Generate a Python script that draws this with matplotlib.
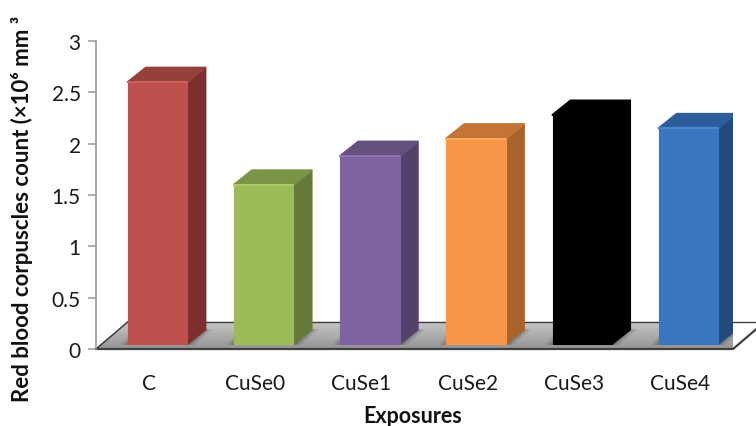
import numpy as np
import matplotlib
matplotlib.use("Agg")
import matplotlib.pyplot as plt
from matplotlib.patches import Polygon

plt.rcParams["font.family"] = ["Lato", "DejaVu Sans"]

# ===============================
# Values
# ===============================
exposures = ["C", "CuSe0", "CuSe1", "CuSe2", "CuSe3", "CuSe4"]
rbc_count = [2.55, 1.55, 1.83, 2.0, 2.23, 2.1]
front_colors = ["#c0504d", "#9bbb59", "#8064a2", "#f79646", "#000000", "#3a75c0"]
side_colors = ["#7c2f2d", "#64793a", "#534169", "#a9642b", "#000000", "#234a7c"]
top_colors = ["#95403d", "#7a9446", "#65507f", "#c27535", "#000000", "#2d5d9a"]
edge_colors = ["#d0625f", "#aecb6b", "#9076b2", "#ffa95c", "#000000", "#4c88d2"]
yticks = [0, 0.5, 1, 1.5, 2, 2.5, 3]
ytick_labels = ["0", "0.5", "1", "1.5", "2", "2.5", "3"]

W, H = 756, 427
fig = plt.figure(figsize=(W / 100, H / 100), dpi=100)
ax = fig.add_axes([96 / W, 1 - 350 / H, 637 / W, 308 / H])

x = np.arange(len(exposures))
bar_w = 0.56
shift_x, base_y = 0.08, 0.05     # bar offset from the front floor edge
depth_x, depth_y = 0.17, 0.14    # bar depth
floor_x, floor_y = 0.30, 0.265   # floor depth

# ===============================
# Floor
# ===============================
floor = Polygon([(-0.5, 0), (5.5, 0), (5.5 + floor_x, floor_y), (-0.5 + floor_x, floor_y)],
                closed=True, facecolor="none", edgecolor="none", clip_on=False, zorder=1)
ax.add_patch(floor)
grad = np.linspace(0.58, 0.78, 50).reshape(-1, 1)
im = ax.imshow(grad, cmap="gray", vmin=0, vmax=1, aspect="auto", origin="lower",
               extent=(-0.5, 5.5 + floor_x, 0, floor_y), zorder=1)
im.set_clip_path(floor)
ax.plot([-0.5, 5.5, 5.5 + floor_x], [0, 0, floor_y], color="#404040", lw=1.6, clip_on=False, zorder=2)
ax.plot([-0.5, -0.5 + floor_x], [0, floor_y], color="#303030", lw=1.0, clip_on=False, zorder=2)
ax.plot([-0.5 + floor_x, 5.5 + floor_x], [floor_y, floor_y], color="#404040", lw=1.0, clip_on=False, zorder=2)

# ===============================
# 3D bars
# ===============================
for xi, v, fc, sc, tc, ec in zip(x, rbc_count, front_colors, side_colors, top_colors, edge_colors):
    left = xi + shift_x - bar_w / 2
    right = xi + shift_x + bar_w / 2
    top = base_y + v
    # soft shadow on the floor
    for k, a in zip([0.07, 0.045, 0.02], [0.07, 0.1, 0.14]):
        ax.add_patch(Polygon([(left - k, base_y - 0.01), (right + k, base_y - 0.01),
                              (right + depth_x + k, base_y + depth_y),
                              (left + depth_x - k, base_y + depth_y + k)],
                             closed=True, facecolor="black", edgecolor="none", alpha=a, zorder=3))
    ax.add_patch(Polygon([(right, base_y), (right + depth_x, base_y + depth_y),
                          (right + depth_x, top + depth_y), (right, top)],
                         closed=True, facecolor=sc, edgecolor=sc, lw=1.5, joinstyle="round", zorder=4))
    ax.add_patch(Polygon([(left, top), (right, top), (right + depth_x, top + depth_y),
                          (left + depth_x, top + depth_y)],
                         closed=True, facecolor=tc, edgecolor=tc, lw=1.5, joinstyle="round", zorder=4))
    ax.bar(xi + shift_x, v, width=bar_w, bottom=base_y, color=fc, edgecolor=fc, lw=0.8, zorder=5)
    # bevel highlight along the top of the front face
    ax.plot([left, right], [top, top], color=ec, lw=1.4, solid_capstyle="round", zorder=6)

# ===============================
# Axes and text
# ===============================
ax.set_xlim(-0.5, 5.5)
ax.set_ylim(0, 3)
for side in ["top", "right", "bottom"]:
    ax.spines[side].set_visible(False)
ax.spines["left"].set_color("#9a9a9a")
ax.spines["left"].set_linewidth(1.2)
ax.set_yticks(yticks)
ax.set_yticklabels(ytick_labels, fontsize=15, color="#1a1a1a")
ax.tick_params(axis="y", length=6, width=1.1, color="#9a9a9a", pad=5)
ax.set_xticks(x)
ax.set_xticklabels(exposures, fontsize=15, color="#1a1a1a")
ax.tick_params(axis="x", length=0, pad=17)

fig.text(413 / W, 1 - 417 / H, "Exposures", fontsize=15.5, fontweight="bold",
         ha="center", va="center", color="#111111")
fig.text(22 / W, 1 - 209 / H, "Red blood corpuscles count (×10⁶ mm ³", fontsize=16, fontweight="bold",
         rotation=90, ha="center", va="center", color="#111111")

fig.savefig("out.png", dpi=100)
plt.close(fig)
